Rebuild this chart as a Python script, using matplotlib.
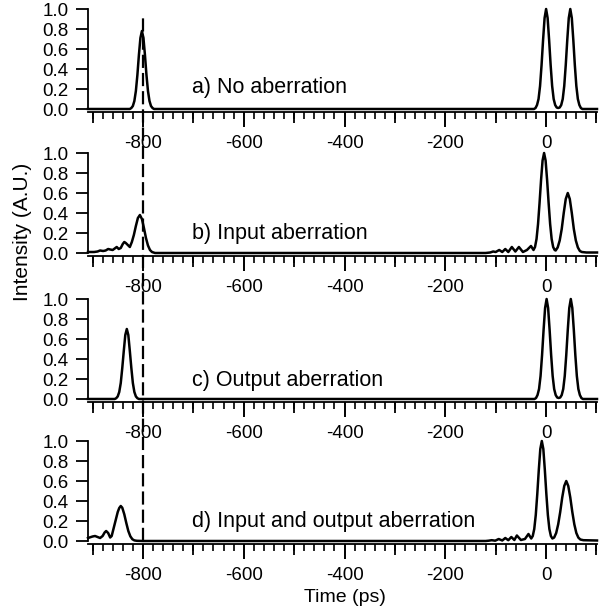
import matplotlib
matplotlib.use("Agg")
import matplotlib.pyplot as plt
from matplotlib.ticker import MultipleLocator, FixedLocator

plt.rcParams['font.family'] = ['Liberation Sans', 'DejaVu Sans']
plt.rcParams['lines.scale_dashes'] = False
plt.rcParams['axes.unicode_minus'] = False

# time axis (ps) and intensity
t_a = [-909, -826, -823, -820, -817, -814, -811, -808, -805, -802, -799, -796, -793, -790, -787,
       -784, -781, -778, -24, -21, -18, -15, -12, -9, -6, -3, 0, 3, 6, 9, 12, 15, 18, 21, 24,
       27, 30, 33, 36, 39, 42, 45, 48, 51, 54, 57, 60, 63, 66, 69, 72, 101]
i_a = [0, 0, 0.01, 0.03, 0.08, 0.18, 0.34, 0.54, 0.71, 0.78, 0.71, 0.54, 0.34, 0.18, 0.08,
       0.03, 0.01, 0, 0, 0.01, 0.04, 0.10, 0.23, 0.44, 0.69, 0.91, 1.0, 0.91, 0.69, 0.44, 0.23,
       0.10, 0.04, 0.015, 0.01, 0.015, 0.04, 0.10, 0.23, 0.44, 0.69, 0.91, 1.0, 0.91, 0.69, 0.44,
       0.23, 0.10, 0.04, 0.01, 0, 0]

t_b = [-909, -897, -890, -885, -879, -874, -869, -865, -860, -856, -852, -848, -844, -840, -837,
       -834, -830, -826, -822, -818, -814, -810, -806, -802, -798, -794, -790, -786, -782, -776,
       -120, -111, -105, -100, -93, -87, -81, -75, -68, -61, -54, -46, -38, -30, -25, -22, -19,
       -16, -13, -10, -7, -4, -1, 2, 5, 8, 11, 14, 17, 19, 23, 27, 31, 35, 39, 43, 47, 51, 55,
       59, 63, 67, 71, 80, 101]
i_b = [0.01, 0.01, 0.015, 0.025, 0.02, 0.025, 0.04, 0.035, 0.03, 0.045, 0.06, 0.04, 0.05, 0.09,
       0.11, 0.10, 0.08, 0.06, 0.11, 0.18, 0.27, 0.35, 0.38, 0.34, 0.25, 0.15, 0.075, 0.03, 0.01, 0,
       0, 0.005, 0.015, 0.01, 0.03, 0.01, 0.04, 0.01, 0.06, 0.015, 0.06, 0.01, 0.03, 0.07, 0.03,
       0.06, 0.14, 0.29, 0.50, 0.73, 0.925, 1.0, 0.925, 0.73, 0.50, 0.29, 0.14, 0.06, 0.03, 0.025,
       0.056, 0.125, 0.24, 0.40, 0.54, 0.60, 0.54, 0.40, 0.24, 0.125, 0.056, 0.02, 0.01, 0.005, 0.005]

t_c = [-909, -856, -853, -850, -847, -844, -841, -838, -835, -832, -829, -826, -823, -820, -817,
       -814, -811, -808, -23, -20, -17, -14, -11, -8, -5, -2, 1, 4, 7, 10, 13, 16, 19, 22, 25,
       28, 31, 34, 37, 40, 43, 46, 49, 52, 55, 58, 61, 64, 67, 70, 73, 101]
i_c = [0, 0, 0.008, 0.026, 0.07, 0.16, 0.31, 0.48, 0.64, 0.70, 0.64, 0.48, 0.31, 0.16, 0.07,
       0.026, 0.008, 0, 0, 0.01, 0.04, 0.10, 0.23, 0.44, 0.69, 0.91, 1.0, 0.91, 0.69, 0.44, 0.23,
       0.10, 0.04, 0.015, 0.01, 0.015, 0.04, 0.10, 0.23, 0.44, 0.69, 0.91, 1.0, 0.91, 0.69, 0.44,
       0.23, 0.10, 0.04, 0.01, 0, 0]

t_d = [-909, -900, -895, -890, -885, -880, -876, -873, -869, -865, -862, -858, -854, -850, -847,
       -844, -841, -837, -833, -829, -825, -821, -817, -812, -800,
       -120, -114, -108, -101, -94, -87, -81, -75, -69, -63, -58, -50, -42, -35, -29.5, -26.5,
       -23.5, -20.5, -17.5, -14.5, -11.5, -8.5, -5.5, -2.5, 0.5, 3.5, 6.5, 9.5, 12.5, 16, 20, 24,
       28, 32, 36, 40, 44, 48, 52, 56, 60, 64, 68, 74, 101]
i_d = [0.03, 0.045, 0.05, 0.04, 0.03, 0.05, 0.085, 0.10, 0.08, 0.035, 0.05, 0.13, 0.21, 0.29,
       0.33, 0.35, 0.333, 0.267, 0.18, 0.10, 0.047, 0.018, 0.006, 0.002, 0,
       0, 0.003, 0.008, 0.003, 0.02, 0.005, 0.03, 0.008, 0.04, 0.01, 0.055, 0.01, 0.02, 0.07,
       0.025, 0.05, 0.12, 0.26, 0.47, 0.71, 0.92, 1.0, 0.92, 0.71, 0.47, 0.26, 0.12, 0.05, 0.025,
       0.035, 0.08, 0.167, 0.29, 0.435, 0.55, 0.60, 0.55, 0.435, 0.29, 0.167, 0.08, 0.034, 0.015,
       0.008, 0.005]

labels = ['a) No aberration', 'b) Input aberration', 'c) Output aberration',
          'd) Input and output aberration']
ref_time = -800

W, H = 608, 616
fig = plt.figure(figsize=(W / 100, H / 100), dpi=100)

left_px, right_px = 88, 597
tops_px = [9, 153, 299, 441]
bots_px = [109, 253, 399, 541]
xlim = (-909, 101)

panels = [(t_a, i_a), (t_b, i_b), (t_c, i_c), (t_d, i_d)]
lab_y = [0.16, 0.14, 0.13, 0.14]

for k, (t, y) in enumerate(panels):
    ax = fig.add_axes([left_px / W, 1 - bots_px[k] / H, (right_px - left_px) / W,
                       (bots_px[k] - tops_px[k]) / H])
    ax.plot(t, y, color='black', lw=1.8, clip_on=False, solid_joinstyle='round')
    ax.set_xlim(*xlim)
    ax.set_ylim(0, 1)
    ax.patch.set_visible(False)
    for s in ['top', 'right']:
        ax.spines[s].set_visible(False)
    ax.spines['left'].set_linewidth(1.3)
    ax.spines['bottom'].set_linewidth(1.3)
    ax.spines['bottom'].set_position(('outward', 2))
    ax.set_yticks([0, 0.2, 0.4, 0.6, 0.8, 1.0])
    ax.set_yticklabels(['0.0', '0.2', '0.4', '0.6', '0.8', '1.0'])
    ax.xaxis.set_major_locator(FixedLocator([-800, -600, -400, -200, 0]))
    ax.xaxis.set_minor_locator(MultipleLocator(20))
    ax.tick_params(axis='y', direction='out', length=9, width=1.3, labelsize=13.5, pad=5)
    ax.tick_params(axis='x', which='major', direction='out', length=11, width=1.4,
                   labelsize=13.5, pad=6)
    ax.tick_params(axis='x', which='minor', direction='out', length=5, width=1.2)
    # medium ticks at the odd hundreds
    sec = ax.secondary_xaxis(-0.028)
    sec.set_xticks([-900, -700, -500, -300, -100, 100])
    sec.tick_params(axis='x', direction='out', length=8, width=1.3, labelbottom=False)
    sec.xaxis.set_minor_locator(FixedLocator([]))
    sec.spines['bottom'].set_visible(False)
    ax.text(-703, lab_y[k], labels[k], fontsize=15.5, va='baseline', ha='left')

# dashed reference line through all panels
ov = fig.add_axes([left_px / W, 1 - bots_px[3] / H, (right_px - left_px) / W,
                   (bots_px[3] - tops_px[0]) / H])
ov.set_xlim(*xlim)
ov.set_ylim(0, 1)
ov.axis('off')
ov.axvline(ref_time, ymin=0, ymax=(bots_px[3] - 14) / (bots_px[3] - tops_px[0]),
           color='black', lw=1.6, dashes=(9.5, 3.6))

fig.text(23 / W, 1 - 232 / H, 'Intensity (A.U.)', rotation=90, fontsize=15,
         ha='center', va='center')
fig.text(345 / W, 1 - 598 / H, 'Time (ps)', fontsize=14, ha='center', va='center')

fig.savefig('out.png', dpi=100)
